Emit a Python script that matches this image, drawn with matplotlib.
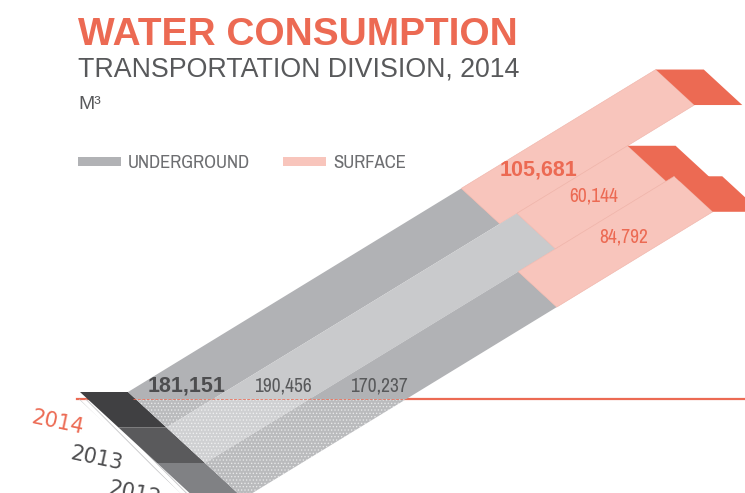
import numpy as np
import matplotlib.pyplot as plt
from matplotlib.patches import Polygon, Rectangle
from matplotlib import font_manager

years = ['2014', '2013', '2012']
underground = np.array([181151, 190456, 170237])
surface = np.array([105681, 60144, 84792])

red = '#ec6a53'
pink = '#f8c5bc'
ug_colors = ['#b1b2b5', '#c9cacc', '#b1b2b5']
cap_colors = ['#404042', '#5a5a5c', '#808184']
year_colors = [red, '#4d4d4f', '#4d4d4f']
grey_text = '#58595b'

installed = {f.name for f in font_manager.fontManager.ttflist}
narrow = 'Archivo Narrow' if 'Archivo Narrow' in installed else 'Liberation Sans'
plain = 'Liberation Sans'

plt.rcParams['hatch.linewidth'] = 0.6

# oblique projection of the ribbons (pixel space, y down)
origin = np.array([128.0, 392.0])        # top corner of the 2014 start edge
px_per_unit = 1.84e-3
along = np.array([1.0, -0.611]) * px_per_unit   # per m3
across = np.array([38.5, 35.5])         # ribbon width / step between years
depth = np.array([48.0, 0.0])           # cap thickness
floor_y = 399

fig = plt.figure(figsize=(7.45, 4.93), dpi=100)
ax = fig.add_axes([0, 0, 1, 1])
ax.set_xlim(0, 745)
ax.set_ylim(493, 0)
ax.axis('off')


def quad(p, a, b):
    return [p, p + a, p + a + b, p + b]


below = Rectangle((0, floor_y), 745, 120, transform=ax.transData)

# floor line, hidden behind the ribbons
ax.plot([77, 745], [floor_y, floor_y], color=red, lw=1.6, zorder=1)

for i in range(len(years)):
    p0 = origin + i * across
    ug = underground[i] * along
    tot = (underground[i] + surface[i]) * along

    ax.add_patch(Polygon(quad(p0 - depth, depth, across), closed=True,
                         fc=cap_colors[i], ec='none', zorder=2))
    ax.add_patch(Polygon(quad(p0, ug, across), closed=True,
                         fc=ug_colors[i], ec='none', zorder=2))
    ax.add_patch(Polygon(quad(p0 + ug, tot - ug, across), closed=True,
                         fc=pink, ec='#efb2a7', lw=0.4, zorder=2))
    ax.add_patch(Polygon(quad(p0 + tot, depth, across), closed=True,
                         fc=red, ec='none', zorder=2))

    # dotted fade under the floor line
    fade = Polygon(quad(p0, ug, across), closed=True, fc=(1, 1, 1, 0.12),
                   ec=(1, 1, 1, 0.6), lw=0, hatch='.....', zorder=3)
    ax.add_patch(fade)
    fade.set_clip_path(below)

    # underground value, centred in the ribbon just above the floor line
    y_lab = floor_y - 13
    x_top = p0[0] + (y_lab - p0[1]) / along[1] * along[0]
    x_bot = p0[0] + across[0] + (y_lab - p0[1] - across[1]) / along[1] * along[0]
    if i == 0:
        ax.text((x_top + x_bot) / 2, y_lab, f'{underground[i]:,}', fontsize=15.5,
                fontweight='bold', family=plain, color='#4d4d4f',
                ha='center', va='center', zorder=5)
    else:
        ax.text((x_top + x_bot) / 2, y_lab, f'{underground[i]:,}', fontsize=14,
                family=narrow, color=grey_text, ha='center', va='center', zorder=5)

    # surface value along the ribbon centre line
    frac = [0.3, 0.52, 0.55][i]
    c = p0 + across / 2 + ug + frac * (tot - ug)
    ax.text(c[0], c[1], f'{surface[i]:,}', fontsize=15.5 if i == 0 else 14,
            fontweight='bold' if i == 0 else 'normal',
            family=plain if i == 0 else narrow, color=red,
            ha='center', va='center', zorder=5)

    # year label beside the start cap
    lp = p0 - depth + np.array([-22, 31])
    ax.text(lp[0], lp[1], years[i], fontsize=15, family='DejaVu Sans',
            color=year_colors[i], rotation=-12, ha='center', va='center', zorder=5)

# ticks along the left side of the caps
a0 = origin - depth + 0.2 * across
a1 = origin - depth + 3.2 * across
ticks = Polygon([a0, a1, a1 - [9, 0], a0 - [9, 0]], closed=True, fc='none',
                ec='#c4c4c6', lw=0, hatch='\\\\\\\\\\', zorder=1)
ax.add_patch(ticks)

# floor line drawn over the ribbons
ax.plot([133, 420], [floor_y, floor_y], color=red, lw=0.7, alpha=0.8,
        ls=(0, (3, 1.5)), zorder=4)

# titles
ax.text(78, 45, 'WATER CONSUMPTION', fontsize=28, fontweight='bold',
        family=plain, color=red, va='baseline', ha='left')
ax.text(78, 76, 'TRANSPORTATION DIVISION, 2014', fontsize=19.3,
        family=plain, color=grey_text, va='baseline', ha='left')
ax.text(78, 109, 'M³', fontsize=14, family=plain, color=grey_text,
        va='baseline', ha='left')

# legend
ax.add_patch(Rectangle((78, 157), 43, 9, fc=ug_colors[0], ec='none'))
ax.text(128, 168, 'UNDERGROUND', fontsize=13.5, family=narrow, color='#6d6e71',
        va='baseline', ha='left')
ax.add_patch(Rectangle((283, 157), 43, 9, fc=pink, ec='none'))
ax.text(333, 168, 'SURFACE', fontsize=13.5, family=narrow, color='#6d6e71',
        va='baseline', ha='left')

fig.savefig('out.png', dpi=100)
